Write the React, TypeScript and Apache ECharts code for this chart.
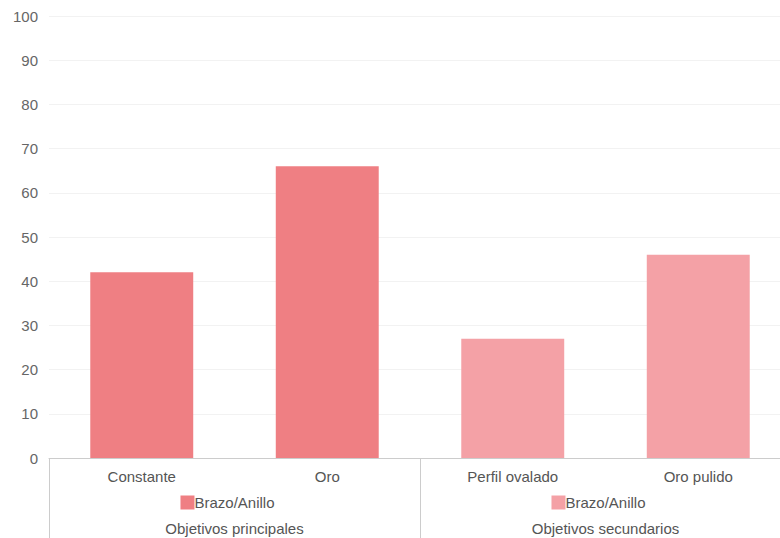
import React, { useEffect, useRef } from "react";
import * as echarts from "echarts";

const categories = ["Constante", "Oro", "Perfil ovalado", "Oro pulido"];
const values = [42, 66, 27, 46];
const groupIndex = [0, 0, 1, 1];
const seriesLabels = ["Brazo/Anillo", "Brazo/Anillo"];
const groupNames = ["Objetivos principales", "Objetivos secundarios"];
const groupColors = ["#EF7F83", "#F4A1A6"];

export default function App() {
  const ref = useRef<HTMLDivElement>(null);
  useEffect(() => {
    if (!ref.current) return;
    const chart = echarts.init(ref.current, null, { renderer: "svg" });
    const font = "'Liberation Sans', Arial, sans-serif";
    chart.setOption({
      animation: false,
      textStyle: { fontFamily: font },
      grid: { left: 49, right: 0, top: 16, bottom: 80, containLabel: false },
      yAxis: {
        type: "value",
        min: 0,
        max: 100,
        interval: 10,
        axisLine: { show: false },
        axisTick: { show: false },
        axisLabel: { color: "#666", fontSize: 15, margin: 11, fontFamily: font },
        splitLine: { lineStyle: { color: "#F2F2F2", width: 1 } },
      },
      xAxis: [
        {
          type: "category",
          position: "bottom",
          data: categories,
          axisLine: { show: true, lineStyle: { color: "#CCCCCC" } },
          axisTick: { show: false },
          axisLabel: { color: "#555", fontSize: 15, margin: 11, fontFamily: font },
        },
        {
          type: "category",
          position: "bottom",
          data: seriesLabels,
          axisLine: { show: false },
          axisTick: { show: false },
          axisLabel: {
            margin: 37,
            fontFamily: font,
            formatter: (v: string, i: number) => `{s${i}|}{t|${v}}`,
            rich: {
              s0: { width: 14, height: 14, backgroundColor: groupColors[0] },
              s1: { width: 14, height: 14, backgroundColor: groupColors[1] },
              t: { color: "#555", fontSize: 15, fontFamily: font, padding: [0, 14, 0, 0] },
            },
          },
        },
        {
          type: "category",
          position: "bottom",
          data: groupNames,
          axisLine: { show: false },
          axisTick: { show: true, length: 80, lineStyle: { color: "#CCCCCC" } },
          axisLabel: { color: "#555", fontSize: 15, margin: 63, fontFamily: font },
        },
      ],
      series: [
        {
          type: "bar",
          xAxisIndex: 0,
          barWidth: "55.5%",
          data: values.map((v, i) => ({
            value: v,
            itemStyle: { color: groupColors[groupIndex[i]] },
          })),
        },
      ],
    });
    return () => chart.dispose();
  }, []);
  return (
    <div
      style={{ position: "fixed", left: 0, top: 0, width: 780, height: 538, overflow: "hidden", background: "#fff" }}
    >
      <div ref={ref} style={{ width: 791, height: 538 }} />
    </div>
  );
}
